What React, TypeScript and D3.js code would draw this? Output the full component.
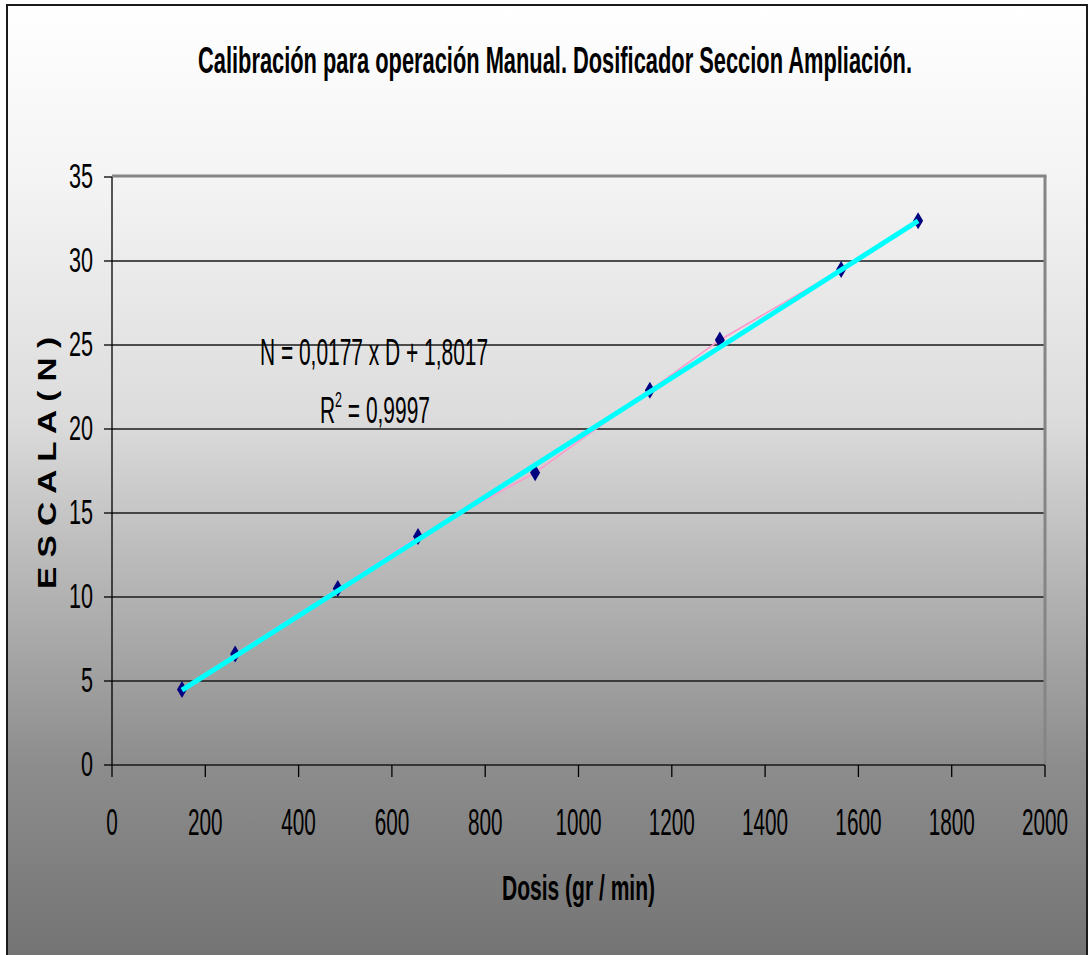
import React from 'react';
import * as d3 from 'd3';

// measured calibration points
const dose = [150, 264, 484, 656, 907, 1153, 1303, 1563, 1728];
const scale = [4.5, 6.6, 10.5, 13.6, 17.4, 22.3, 25.3, 29.5, 32.4];
// linear trend shown on the chart
const slope = 0.0177;
const intercept = 1.8017;
const rSquared = '0,9997';

const title = 'Calibración para operación Manual. Dosificador Seccion Ampliación.';
const xTitle = 'Dosis (gr / min)';
const yTitle = 'E S C A L A  ( N )';

const W = 1090;
const H = 955;
const plot = {left: 112, right: 1045, top: 177, bottom: 765};
const font = '"Liberation Sans", Arial, sans-serif';

const App = () => {
    const x = d3.scaleLinear().domain([0, 2000]).range([plot.left, plot.right]);
    const y = d3.scaleLinear().domain([0, 35]).range([plot.bottom, plot.top]);

    const pts = dose.map((d, i) => [d, scale[i]] as [number, number]);
    const line = d3.line<[number, number]>().x(d => x(d[0])).y(d => y(d[1]));

    const x0 = d3.min(dose) as number;
    const x1 = d3.max(dose) as number;
    const trend: [number, number][] = [[x0, slope * x0 + intercept], [x1, slope * x1 + intercept]];

    const diamond = 'M0,-8.5L5,0L0,8.5L-5,0Z';

    return (
        <svg width={W} height={H} style={{position: 'absolute', left: 0, top: 0}} fontFamily={font}>
            <defs>
                <linearGradient id="bg" gradientUnits="userSpaceOnUse" x1="0" y1="5" x2="0" y2="965">
                    <stop offset="0" stopColor="#ffffff" />
                    <stop offset="0.18" stopColor="#f4f4f4" />
                    <stop offset="0.43" stopColor="#dcdcdc" />
                    <stop offset="0.57" stopColor="#bcbcbc" />
                    <stop offset="0.79" stopColor="#8d8d8d" />
                    <stop offset="1" stopColor="#737373" />
                </linearGradient>
            </defs>
            <rect x={7} y={5} width={1080} height={962} fill="url(#bg)" stroke="#1a1a1a" strokeWidth={2} />

            <g transform="translate(555,73) scale(0.57,1)">
                <text textAnchor="middle" fontSize={37} fontWeight="bold"
                      textLength={714 / 0.57} lengthAdjust="spacingAndGlyphs">{title}</text>
            </g>

            {/* grid */}
            {y.ticks(7).filter(t => t > 0 && t < 35).map(t => (
                <line key={t} x1={plot.left} x2={plot.right} y1={y(t)} y2={y(t)} stroke="#1a1a1a" strokeWidth={1.3} />
            ))}
            <line x1={plot.left} x2={plot.right + 1.5} y1={plot.top - 1} y2={plot.top - 1} stroke="#858585" strokeWidth={3} />
            <line x1={plot.right} x2={plot.right} y1={plot.top - 1} y2={plot.bottom} stroke="#858585" strokeWidth={3} />

            {/* axes */}
            <line x1={plot.left} x2={plot.left} y1={plot.top} y2={plot.bottom} stroke="#000" strokeWidth={1.3} />
            <line x1={plot.left} x2={plot.right} y1={plot.bottom} y2={plot.bottom} stroke="#1a1a1a" strokeWidth={1.5} />
            {y.ticks(7).map(t => (
                <g key={t}>
                    <line x1={plot.left - 8} x2={plot.left} y1={y(t)} y2={y(t)} stroke="#000" strokeWidth={1.3} />
                    <g transform={`translate(93,${y(t) + 11}) scale(0.6,1)`}>
                        <text textAnchor="end" fontSize={36}>{t}</text>
                    </g>
                </g>
            ))}
            {x.ticks(10).map(t => (
                <g key={t}>
                    <line x1={x(t)} x2={x(t)} y1={plot.bottom} y2={plot.bottom + 12} stroke="#000" strokeWidth={1.3} />
                    <g transform={`translate(${x(t)},835) scale(0.56,1)`}>
                        <text textAnchor="middle" fontSize={37}>{t}</text>
                    </g>
                </g>
            ))}

            <g transform={`translate(${(plot.left + plot.right) / 2},900) scale(0.57,1)`}>
                <text textAnchor="middle" fontSize={36} fontWeight="bold"
                      textLength={153 / 0.57} lengthAdjust="spacingAndGlyphs">{xTitle}</text>
            </g>
            <text transform="translate(56,463) rotate(-90)" textAnchor="middle" fontSize={26} fontWeight="bold"
                  textLength={252} lengthAdjust="spacingAndGlyphs">{yTitle}</text>

            {/* data */}
            <path d={line(pts) as string} fill="none" stroke="#ff99cc" strokeWidth={1.6} />
            {pts.map((p, i) => (
                <path key={i} d={diamond} transform={`translate(${x(p[0])},${y(p[1])})`} fill="#000080" />
            ))}
            <path d={line(trend) as string} fill="none" stroke="#00ffff" strokeWidth={5} />

            {/* trend equation */}
            <g transform="translate(260,365) scale(0.566,1)">
                <text fontSize={37}>{`N = ${String(slope).replace('.', ',')} x D + ${String(intercept).replace('.', ',')}`}</text>
            </g>
            <g transform="translate(320,423) scale(0.566,1)">
                <text fontSize={37}>R<tspan fontSize={22} dy={-16}>2</tspan><tspan dy={16}>{` = ${rSquared}`}</tspan></text>
            </g>
        </svg>
    );
};

export default App;
